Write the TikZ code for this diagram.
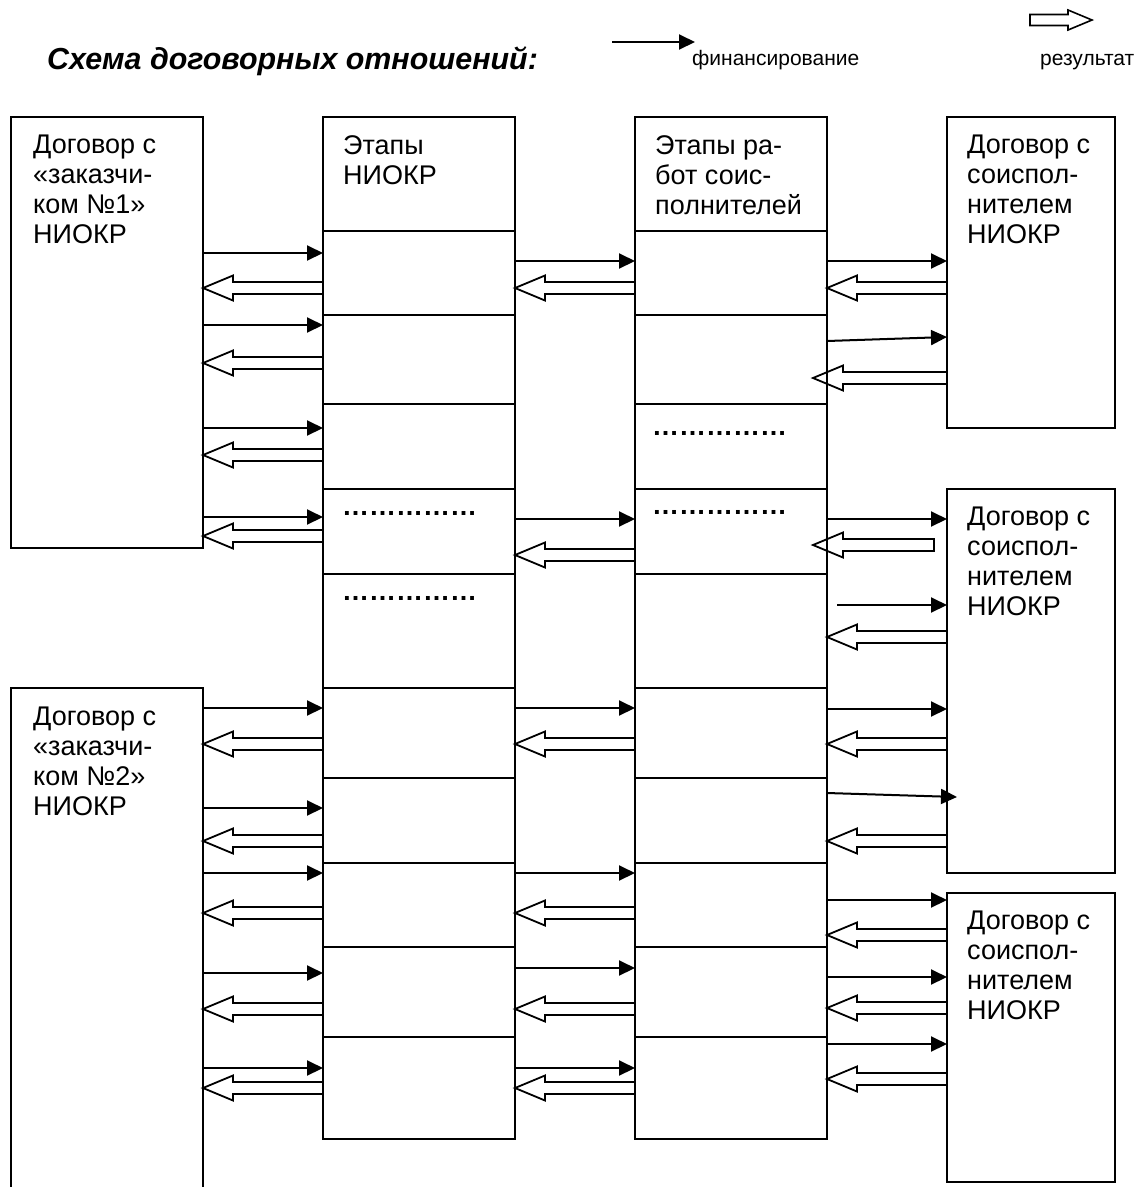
\documentclass[tikz,border=0pt]{standalone}
\usepackage{fontspec}
\setmainfont{Liberation Sans}
\usetikzlibrary{arrows.meta,calc}

\tikzset{
  box/.style={draw, line width=2pt, anchor=north west, inner sep=0pt, outer sep=0pt},
  ghost/.style={anchor=north west, inner sep=0pt, outer sep=0pt},
  divider/.style={line width=2pt},
  txt/.style={anchor=north west, inner sep=0pt, align=left, font=\fontsize{27}{30}\selectfont},
  dots/.style={anchor=base west, inner sep=0pt, font=\fontsize{27}{30}\selectfont\bfseries},
  fin/.style={line width=2pt, -{Triangle[length=16pt,width=15pt]}},
  % hollow block arrow: half shaft width, half head width, head length
  hollow/.style n args={3}{to path={
    let \p1=(\tikztostart), \p2=(\tikztotarget), \n1={sign(\x2-\x1)} in
    ({\x1},{\y1+#1}) -- ({\x2-(\n1)*#3},{\y1+#1}) -- ({\x2-(\n1)*#3},{\y1+#2})
    -- ({\x2},{\y1}) -- ({\x2-(\n1)*#3},{\y1-#2}) -- ({\x2-(\n1)*#3},{\y1-#1})
    -- ({\x1},{\y1-#1})}},
  res/.style={line width=1.8pt, line join=miter, hollow={6pt}{12.5pt}{30pt}},
  legendres/.style={line width=1.6pt, line join=miter, hollow={5.5pt}{10pt}{24pt}},
}

\begin{document}
\begin{tikzpicture}[x=1pt,y=-1pt]
\useasboundingbox (0,0) rectangle (1137,1187);

% ---- heading and legend ----
\node[anchor=base west, inner sep=0pt, font=\fontsize{30.4}{34}\selectfont\bfseries\itshape]
  (title) at (47,69) {Схема договорных отношений:};
\coordinate (lf1) at (612,42);
\coordinate (lf2) at (695,42);
\draw[fin] (lf1) -- (lf2);
\node[anchor=base west, inner sep=0pt, font=\fontsize{21}{24}\selectfont] (lfin) at (692,65) {финансирование};
\coordinate (lr1) at (1030,20);
\coordinate (lr2) at (1092,20);
\draw[legendres] (lr1) to (lr2) -- cycle;
\node[anchor=base west, inner sep=0pt, font=\fontsize{21}{24}\selectfont] (lres) at (1040,65) {результат};

% ---- boxes ----
\node[box, minimum width=192pt, minimum height=431pt] (L1) at (11,117) {};
\node[ghost, minimum width=192pt, minimum height=499pt] (L2) at (11,688) {};
\draw[divider] (L2.south west) -- (L2.north west) -- (L2.north east) -- (L2.south east);
\node[box, minimum width=192pt, minimum height=1022pt] (C2) at (323,117) {};
\node[box, minimum width=192pt, minimum height=1022pt] (C3) at (635,117) {};
\node[box, minimum width=168pt, minimum height=311pt] (R1) at (947,117) {};
\node[box, minimum width=168pt, minimum height=384pt] (R2) at (947,489) {};
\node[box, minimum width=168pt, minimum height=289pt] (R3) at (947,893) {};

% stage rows inside both middle columns
\foreach \r in {231,315,404,489,574,688,778,863,947,1037}{
  \draw[divider] (C2.west |- 0,\r) -- (C2.east |- 0,\r);
  \draw[divider] (C3.west |- 0,\r) -- (C3.east |- 0,\r);
}

% ---- texts ----
\node[txt] (tL1) at (33,135) {Договор с\\«заказчи-\\ком №1»\\НИОКР};
\node[txt] (tL2) at (33,707) {Договор с\\«заказчи-\\ком №2»\\НИОКР};
\node[txt] (tC2) at (343,135) {Этапы\\НИОКР};
\node[txt] (tC3) at (655,135) {Этапы ра-\\бот соис-\\полнителей};
\node[txt] (tR1) at (967,135) {Договор с\\соиспол-\\нителем\\НИОКР};
\node[txt] (tR2) at (967,507) {Договор с\\соиспол-\\нителем\\НИОКР};
\node[txt] (tR3) at (967,911) {Договор с\\соиспол-\\нителем\\НИОКР};

\node[dots] (d1) at (342,515) {……………};
\node[dots] (d2) at (342,600) {……………};
\node[dots] (d3) at (652,435) {……………};
\node[dots] (d4) at (652,514) {……………};

% ---- customers <-> stages ----
\foreach \r in {253,325,428,517}
  \draw[fin] (L1.east |- 0,\r) -- (C2.west |- 0,\r);
\foreach \r in {288,363,455,536}
  \draw[res] (C2.west |- 0,\r) to (L1.east |- 0,\r);
\foreach \r in {708,808,873,973,1068}
  \draw[fin] (L2.east |- 0,\r) -- (C2.west |- 0,\r);
\foreach \r in {744,841,913,1009,1088}
  \draw[res] (C2.west |- 0,\r) to (L2.east |- 0,\r);

% ---- stages <-> co-contractor stages ----
\foreach \r in {261,519,708,873,968,1068}
  \draw[fin] (C2.east |- 0,\r) -- (C3.west |- 0,\r);
\foreach \r in {288,555,744,913,1009,1088}
  \draw[res] (C3.west |- 0,\r) to (C2.east |- 0,\r);

% ---- co-contractor stages <-> co-contractors ----
\draw[fin] (C3.east |- 0,261) -- (R1.west |- 0,261);
\draw[res] (R1.west |- 0,288) to (C3.east |- 0,288);
\draw[fin] (C3.east |- 0,341) -- (R1.west |- 0,337);
\draw[res] (R1.west |- 0,378) to ($(C3.east |- 0,378)+(-14,0)$);

\draw[fin] (C3.east |- 0,519) -- (R2.west |- 0,519);
\draw[res] ($(R2.west |- 0,545)+(-13,0)$) to ($(C3.east |- 0,545)+(-14,0)$) -- cycle;
\draw[fin] ($(C3.east |- 0,605)+(10,0)$) -- (R2.west |- 0,605);
\draw[res] (R2.west |- 0,637) to (C3.east |- 0,637);
\draw[fin] (C3.east |- 0,709) -- (R2.west |- 0,709);
\draw[res] (R2.west |- 0,744) to (C3.east |- 0,744);
\draw[fin] (C3.east |- 0,793) -- ($(R2.west |- 0,797)+(10,0)$);
\draw[res] (R2.west |- 0,841) to (C3.east |- 0,841);

\foreach \r in {900,977,1044}
  \draw[fin] (C3.east |- 0,\r) -- (R3.west |- 0,\r);
\foreach \r in {935,1008,1079}
  \draw[res] (R3.west |- 0,\r) to (C3.east |- 0,\r);
\end{tikzpicture}
\end{document}
